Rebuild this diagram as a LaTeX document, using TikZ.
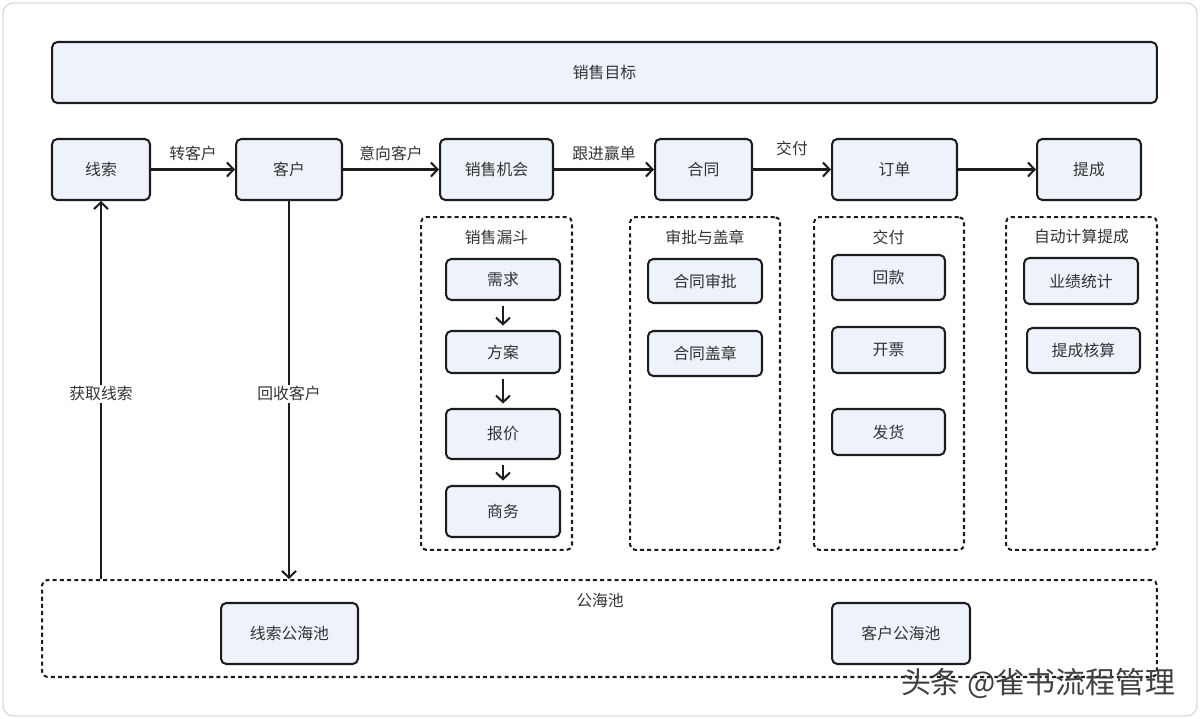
\documentclass[tikz,border=0pt]{standalone}
\usepackage{fontspec}
\setmainfont{Noto Sans CJK SC}
\usetikzlibrary{arrows.meta,positioning,calc}
\definecolor{boxfill}{RGB}{238,242,251}
\definecolor{boxline}{RGB}{28,28,28}
\definecolor{txtcolor}{RGB}{51,51,51}
\definecolor{framecolor}{RGB}{220,220,220}

\begin{document}
\begin{tikzpicture}[x=0.02cm,y=-0.02cm,
    box/.style={draw=boxline,fill=boxfill,line width=1.15pt,rounded corners=3pt,
        inner sep=0pt,font=\fontsize{9}{11}\selectfont,text=txtcolor},
    group/.style={draw=boxline,line width=1.15pt,dash pattern=on 2.3pt off 1.8pt,
        rounded corners=3pt,inner sep=0pt},
    lbl/.style={font=\fontsize{9}{11}\selectfont,text=txtcolor},
    flow/.style={draw=boxline,line width=1.15pt,-{Straight Barb[length=3.8pt,width=8pt]}}]
    \useasboundingbox (0,0) rectangle (1200,719);
    % Outer frame
    \draw[framecolor,line width=0.8pt,rounded corners=6pt] (3,3) rectangle (1197,716);

    % Sales goal
    \node[box,minimum width=22.1cm,minimum height=1.22cm] (goal) at (604.5,72.5) {销售目标};

    % Main flow
    \node[box,minimum width=1.96cm,minimum height=1.22cm] (lead) at (101,169.5) {线索};
    \node[box,minimum width=2.12cm,minimum height=1.22cm] (cust) at (289,169.5) {客户};
    \node[box,minimum width=2.26cm,minimum height=1.22cm] (oppo) at (496.5,169.5) {销售机会};
    \node[box,minimum width=1.94cm,minimum height=1.22cm] (cont) at (703.5,169.5) {合同};
    \node[box,minimum width=2.5cm,minimum height=1.22cm] (order) at (894.5,169.5) {订单};
    \node[box,minimum width=2.08cm,minimum height=1.22cm] (comm) at (1089,169.5) {提成};

    \draw[flow] (lead) -- node[lbl,above=1pt] {转客户} (cust);
    \draw[flow] (cust) -- node[lbl,above=1pt] {意向客户} (oppo);
    \draw[flow] (oppo) -- node[lbl,above=1pt] {跟进赢单} (cont);
    \draw[flow] (cont) -- node[lbl,above=4pt] {交付} (order);
    \draw[flow] (order) -- (comm);

    % Dashed groups
    \node[group,minimum width=3.02cm,minimum height=6.66cm] (funnel) at (496.5,383.5) {};
    \node[group,minimum width=3.0cm,minimum height=6.66cm] (approve) at (705,383.5) {};
    \node[group,minimum width=3.0cm,minimum height=6.66cm] (deliver) at (889,383.5) {};
    \node[group,minimum width=3.02cm,minimum height=6.66cm] (calc) at (1081.5,383.5) {};
    \node[lbl] (funnelT) at (496.5,237) {销售漏斗};
    \node[lbl] (approveT) at (705,237) {审批与盖章};
    \node[lbl] (deliverT) at (888.5,237) {交付};
    \node[lbl] (calcT) at (1081.5,237) {自动计算提成};

    % Sales funnel
    \node[box,minimum width=2.28cm,minimum height=0.82cm] (need) at (503,279.5) {需求};
    \node[box,minimum width=2.28cm,minimum height=0.84cm] (plan) at (503,352) {方案};
    \node[box,minimum width=2.28cm,minimum height=1.0cm] (quote) at (503,434) {报价};
    \node[box,minimum width=2.28cm,minimum height=1.02cm] (deal) at (503,511.5) {商务};
    \foreach \a/\b in {need/plan,plan/quote,quote/deal}
        \draw[flow,shorten <=3pt,shorten >=2.5pt] (\a) -- (\b);

    % Approval
    \node[box,minimum width=2.28cm,minimum height=0.88cm] (cappr) at (705,281) {合同审批};
    \node[box,minimum width=2.28cm,minimum height=0.9cm] (cseal) at (705,353.5) {合同盖章};

    % Delivery
    \node[box,minimum width=2.26cm,minimum height=0.9cm] (pay) at (888.5,277.5) {回款};
    \node[box,minimum width=2.26cm,minimum height=0.92cm] (inv) at (888.5,350) {开票};
    \node[box,minimum width=2.26cm,minimum height=0.92cm] (ship) at (888.5,432) {发货};

    % Commission
    \node[box,minimum width=2.28cm,minimum height=0.92cm] (perf) at (1081,281) {业绩统计};
    \node[box,minimum width=2.26cm,minimum height=0.9cm] (audit) at (1083.5,350.5) {提成核算};

    % Public pool
    \node[group,minimum width=22.3cm,minimum height=1.94cm] (pool) at (599.5,628.5) {};
    \node[lbl] (poolT) at (600,600) {公海池};
    \node[box,minimum width=2.74cm,minimum height=1.22cm] (leadpool) at (289.5,633.5) {线索公海池};
    \node[box,minimum width=2.76cm,minimum height=1.22cm] (custpool) at (901,633.5) {客户公海池};

    \draw[flow] (lead.south |- pool.north) -- node[lbl,fill=white,inner sep=1pt,pos=0.49] {获取线索} (lead.south);
    \draw[flow] (cust.south) -- node[lbl,fill=white,inner sep=1pt,pos=0.51] {回收客户} (cust.south |- pool.north);

    % Watermark
    \node[font=\fontsize{17}{20}\selectfont,text=black!75] (wm) at (1038,683) {头条 @雀书流程管理};
\end{tikzpicture}
\end{document}
